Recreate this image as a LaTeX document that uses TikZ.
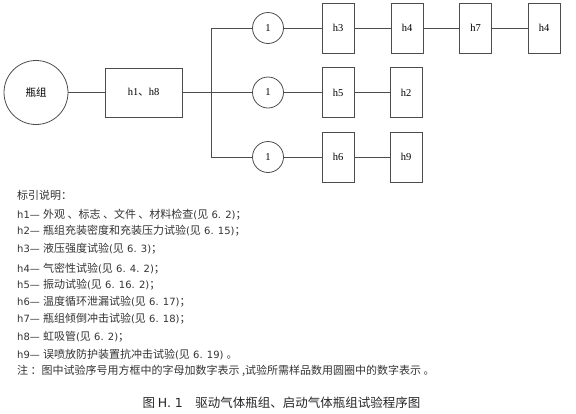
\documentclass[tikz,border=0pt]{standalone}
\usepackage{fontspec}
\setmainfont{Liberation Serif}
\newfontfamily\cjk{Noto Sans CJK SC}
\newfontfamily\latin{DejaVu Sans}
\newcommand\lt[1]{{\latin\fontsize{10}{12}\selectfont #1}}
\begin{document}
\begin{tikzpicture}[x=1pt,y=-1pt, every node/.style={font=\fontsize{10.5}{12}\selectfont},
  test/.style={draw=black!70,minimum width=32pt,minimum height=50pt,inner sep=0pt,line width=0.8pt},
  count/.style={draw=black!70,circle,minimum size=31pt,inner sep=0pt,line width=0.8pt},
  link/.style={draw=black!70,line width=0.8pt},
  note/.style={anchor=west,inner sep=0pt,text=black!80,font=\cjk\fontsize{11}{13}\selectfont}]
\useasboundingbox (0,0) rectangle (576,413);
\node[draw=black!70,circle,minimum size=64pt,inner sep=0pt,line width=0.8pt] (cyl) at (36,92.5) {\cjk 瓶组};
\node[test,minimum width=77pt,minimum height=49pt] (h18) at (143.5,92.5) {h1{\cjk 、}h8};
\coordinate (hub) at (211,92.5);
\node[count] (n1) at (268,28) {1};
\node[count] (n2) at (268,92.5) {1};
\node[count] (n3) at (268,157) {1};
\node[test] (h3) at (338,28) {h3};
\node[test] (h4a) at (407,28) {h4};
\node[test] (h7) at (475.5,28) {h7};
\node[test] (h4b) at (544,28) {h4};
\node[test] (h5) at (338,92.5) {h5};
\node[test] (h2) at (406,92.5) {h2};
\node[test] (h6) at (338,157) {h6};
\node[test] (h9) at (406,157) {h9};
\draw[link] (cyl)--(h18); \draw[link] (h18)--(hub);
\draw[link] (hub)|-(n1); \draw[link] (hub)--(n2); \draw[link] (hub)|-(n3);
\draw[link] (n1)--(h3); \draw[link] (h3)--(h4a); \draw[link] (h4a)--(h7); \draw[link] (h7)--(h4b);
\draw[link] (n2)--(h5); \draw[link] (h5)--(h2);
\draw[link] (n3)--(h6); \draw[link] (h6)--(h9);
% key
\node[note] (key) at (17,195) {标引说明：};
\node[note] (k1) at (17,215) {\lt{h1— }外观 、标志 、文件 、材料检查\lt{(}见\lt{ 6. 2)}；};
\node[note] (k2) at (17,231) {\lt{h2— }瓶组充装密度和充装压力试验\lt{(}见\lt{ 6. 15)}；};
\node[note] (k3) at (17,249) {\lt{h3— }液压强度试验\lt{(}见\lt{ 6. 3)}；};
\node[note] (k4) at (17,269) {\lt{h4— }气密性试验\lt{(}见\lt{ 6. 4. 2)}；};
\node[note] (k5) at (17,285) {\lt{h5— }振动试验\lt{(}见\lt{ 6. 16. 2)}；};
\node[note] (k6) at (17,302) {\lt{h6— }温度循环泄漏试验\lt{(}见\lt{ 6. 17)}；};
\node[note] (k7) at (17,319) {\lt{h7— }瓶组倾倒冲击试验\lt{(}见\lt{ 6. 18)}；};
\node[note] (k8) at (17,337) {\lt{h8— }虹吸管\lt{(}见\lt{ 6. 2)}；};
\node[note] (k9) at (17,354) {\lt{h9— }误喷放防护装置抗冲击试验\lt{(}见\lt{ 6. 19) }。};
\node[note] (rem) at (17,371) {注 ：图中试验序号用方框中的字母加数字表示 ,试验所需样品数用圆圈中的数字表示 。};
% caption
\node[text=black!85,font=\cjk\fontsize{12.5}{14}\selectfont] (cap) at (281.5,403) {图 \lt{\fontsize{12.5}{14}\selectfont H. 1}\quad 驱动气体瓶组、启动气体瓶组试验程序图};
\end{tikzpicture}
\end{document}
